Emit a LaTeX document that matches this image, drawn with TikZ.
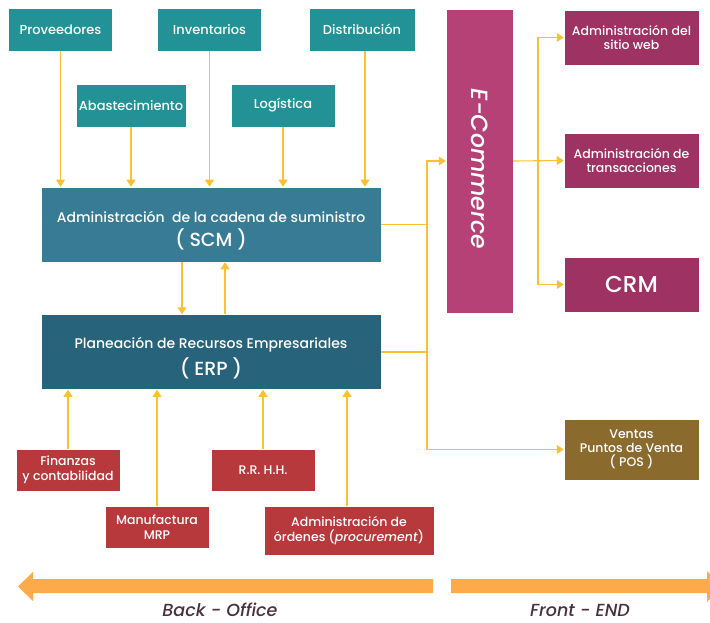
\documentclass[tikz,border=0pt]{standalone}
\usepackage{fontspec}
\IfFontExistsTF{Poppins Medium}
  {\setmainfont{Poppins Medium}[ItalicFont={Poppins Medium Italic}]}
  {\setmainfont{Poppins}}
\usetikzlibrary{arrows.meta}

\definecolor{tealbox}{RGB}{34,146,150}
\definecolor{scmblue}{RGB}{55,123,149}
\definecolor{erpblue}{RGB}{39,99,122}
\definecolor{ecompink}{RGB}{181,65,119}
\definecolor{frontmag}{RGB}{158,50,98}
\definecolor{backred}{RGB}{183,57,60}
\definecolor{posbrown}{RGB}{139,106,46}
\definecolor{flowyellow}{RGB}{252,193,50}
\definecolor{bandorange}{RGB}{253,170,75}
\definecolor{labeltext}{RGB}{75,48,62}

\begin{document}
\begin{tikzpicture}[x=1pt,y=-1pt,
  box/.style={draw=white,line width=0.5pt,text=white,align=center,inner sep=0pt},
  supply/.style={box,fill=tealbox,minimum width=104pt,minimum height=43pt,
    font=\fontsize{13}{15}\selectfont},
  core/.style={box,minimum width=340pt,minimum height=75pt},
  front/.style={box,fill=frontmag,minimum width=135pt,minimum height=55pt,
    font=\fontsize{12.5}{14}\selectfont},
  back/.style={box,fill=backred,minimum width=104pt,minimum height=42pt,
    font=\fontsize{12.5}{14.5}\selectfont},
  flow/.style={draw=flowyellow,line width=1.1pt,-{Triangle[width=9pt,length=7pt]}},
  wire/.style={draw=flowyellow,line width=1.1pt},
  band/.style={fill=bandorange},
  side/.style={text=labeltext,inner sep=0pt,anchor=base,
    font=\fontsize{17.5}{20}\selectfont\itshape}]

\useasboundingbox (0,0) rectangle (710,623);

%% supply chain inputs
\node[supply] (prov) at (60.5,29.5) {Proveedores};
\node[supply] (inv) at (209.5,29.5) {Inventarios};
\node[supply, minimum width=106pt] (dist) at (362,29.5) {Distribución};
\node[supply, minimum width=110pt] (abas) at (131,105.5) {Abastecimiento};
\node[supply] (logi) at (283,105.5) {Logística};

%% core systems
\node[core,fill=scmblue] (scm) at (211,224.5)
{\fontsize{14}{20}\selectfont\rule{0pt}{23pt}Administración\ \ de la cadena de suministro\\[5pt]
 \fontsize{19}{20}\selectfont ( SCM )};
\node[core,fill=erpblue] (erp) at (211,352)
{\fontsize{14}{20}\selectfont\rule{0pt}{23pt}Planeación de Recursos Empresariales\\[5pt]
 \fontsize{19}{20}\selectfont ( ERP )};

\draw[flow] (prov.south) -- (prov.south |- scm.north);
\draw[flow] (abas.south) -- (abas.south |- scm.north);
\draw[flow] (inv.south) -- (inv.south |- scm.north);
\draw[flow] (logi.south) -- (logi.south |- scm.north);
\draw[flow] ([xshift=3pt]dist.south) -- ([xshift=3pt]dist.south |- scm.north);

\draw[flow] ([xshift=-29pt]scm.south) -- ([xshift=-29pt]scm.south |- erp.north);
\draw[flow] ([xshift=14pt]erp.north) -- ([xshift=14pt]erp.north |- scm.south);

%% back office modules
\node[back] (fin) at (68,470) {Finanzas\\y contabilidad};
\node[back] (rrhh) at (263,470) {R.R. H.H.};
\node[back] (manuf) at (157,527) {Manufactura\\MRP};
\node[back, minimum width=170pt, minimum height=49pt] (ord) at (349,530.5)
{Administración de\\órdenes (\textit{procurement})};

\draw[flow] (fin.north) -- (fin.north |- erp.south);
\draw[flow] (manuf.north) -- (manuf.north |- erp.south);
\draw[flow] (rrhh.north) -- (rrhh.north |- erp.south);
\draw[flow] ([xshift=-2pt]ord.north) -- ([xshift=-2pt]ord.north |- erp.south);

%% front end
\node[box,fill=ecompink,minimum width=67pt,minimum height=304pt] (ecom) at (479.5,161)
{\rotatebox{-90}{\fontsize{23.5}{26}\selectfont\itshape\hspace*{16pt}E-Commerce}};
\node[front] (web) at (631.5,37.5) {Administración del\\sitio web};
\node[front] (trans) at (631.5,160.5) {Administración de\\transacciones};
\node[front] (crm) at (631.5,284.5) {\fontsize{23}{25}\selectfont CRM};
\node[front,fill=posbrown,minimum height=61pt] (pos) at (631.5,449.5)
{Ventas\\Puntos de Venta\\( POS )};

\coordinate (bus) at (427,0);
\coordinate (fork) at (538,0);

\draw[wire] (scm.east) -- (scm.east -| bus);
\draw[wire] (erp.east) -- (erp.east -| bus);
\draw[flow] (bus |- pos.west) -- (bus |- ecom.west) -- (ecom.west);
\draw[flow] (bus |- pos.west) -- (pos.west);

\draw[flow] (ecom.east) -- (trans.west);
\draw[flow] (fork |- web.west) -- (web.west);
\draw[flow] (fork |- web.west) -- (fork |- crm.west) -- (crm.west);

%% back office / front end bands
\fill[band] (433,579) -- (33,579) -- (33,572) -- (18,586.5) -- (33,601)
  -- (33,593) -- (433,593) -- cycle;
\fill[band] (451,579) -- (707,579) -- (707,571) -- (722,586.5) -- (707,602)
  -- (707,593) -- (451,593) -- cycle;

\node[side] (backlbl) at (220,616.5) {Back - Office};
\node[side] (frontlbl) at (580,616.5) {Front - END};

\end{tikzpicture}
\end{document}
